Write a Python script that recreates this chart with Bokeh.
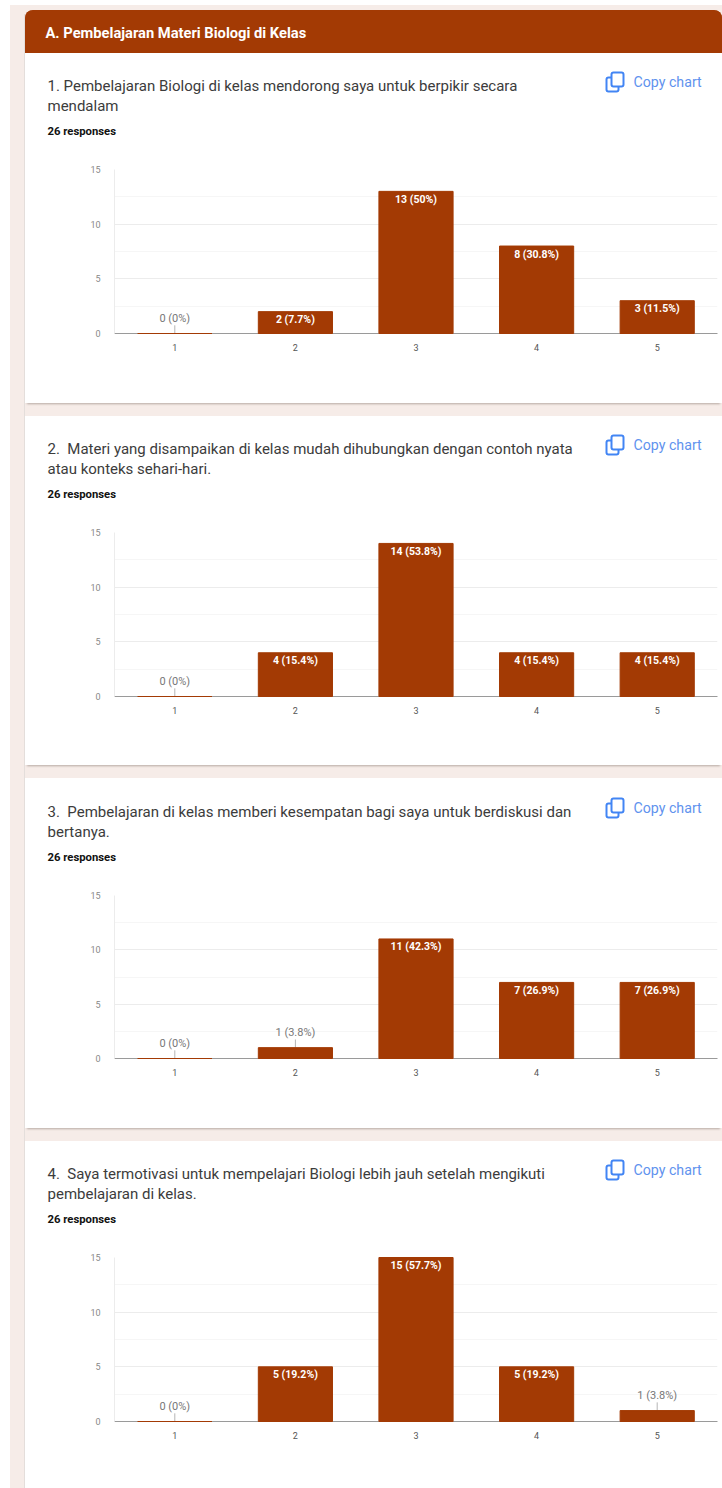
from bokeh.plotting import figure
from bokeh.layouts import column
from bokeh.models import Label, ColumnDataSource, FixedTicker
from bokeh.core.properties import value
from bokeh.embed import file_html
from bokeh.resources import INLINE

categories = ["1", "2", "3", "4", "5"]
header = "A. Pembelajaran Materi Biologi di Kelas"
responses = "26 responses"
copy_text = "Copy chart"
values_q1 = [0, 2, 13, 8, 3]
values_q2 = [0, 4, 14, 4, 4]
values_q3 = [0, 1, 11, 7, 7]
values_q4 = [0, 5, 15, 5, 1]
labels_q1 = ["0 (0%)", "2 (7.7%)", "13 (50%)", "8 (30.8%)", "3 (11.5%)"]
labels_q2 = ["0 (0%)", "4 (15.4%)", "14 (53.8%)", "4 (15.4%)", "4 (15.4%)"]
labels_q3 = ["0 (0%)", "1 (3.8%)", "11 (42.3%)", "7 (26.9%)", "7 (26.9%)"]
labels_q4 = ["0 (0%)", "5 (19.2%)", "15 (57.7%)", "5 (19.2%)", "1 (3.8%)"]
title_q1 = ["1. Pembelajaran Biologi di kelas mendorong saya untuk berpikir secara", "mendalam"]
title_q2 = ["2.\u00a0 Materi yang disampaikan di kelas mudah dihubungkan dengan contoh nyata", "atau konteks sehari-hari."]
title_q3 = ["3.\u00a0 Pembelajaran di kelas memberi kesempatan bagi saya untuk berdiskusi dan", "bertanya."]
title_q4 = ["4.\u00a0 Saya termotivasi untuk mempelajari Biologi lebih jauh setelah mengikuti", "pembelajaran di kelas."]

BRICK = "#a33a04"
PALE = "#f6ece8"
BLUE = "#4285f4"
FONT = "Roboto"
CARD_LEFT = 25
W = 722 - CARD_LEFT
FRAME_LEFT = 114
FRAME_RIGHT = 717
TOP_PAD = 8


def band(title, card_top, y15, first=False):
    """The part of a card above its chart: wording and copy-chart icon, in page pixels."""
    bottom = y15 - TOP_PAD
    p = figure(width=W, height=bottom - card_top, x_range=(CARD_LEFT, 722), y_range=(bottom, card_top),
               toolbar_location=None, output_backend="svg", min_border=0, frame_align=False,
               margin=(0, 0, 0, CARD_LEFT), styles={"background": "white"})
    p.axis.visible = False
    p.grid.visible = False
    p.outline_line_color = None
    p.background_fill_color = "white"
    p.border_fill_color = "white"

    def txt(x, y, s, size, color, bold=False):
        p.add_layout(Label(x=x, y=y, text=s, text_font=FONT, text_font_size=f"{size}px",
                           text_color=color, text_font_style="bold" if bold else "normal",
                           text_align="left", text_baseline="middle"))

    line1 = y15 + 164 - 248
    txt(47, line1, title[0], 15, "#3c3c3c")
    txt(47, line1 + 20, title[1], 15, "#3c3c3c")
    txt(47, line1 + 46, responses, 11.3, "#111111", bold=True)
    p.quad(left=[606], right=[618], top=[line1 - 8], bottom=[line1 + 6], fill_color="white",
           line_color=BLUE, line_width=2, border_radius=2)
    p.quad(left=[611], right=[623], top=[line1 - 13], bottom=[line1 + 1], fill_color="white",
           line_color=BLUE, line_width=2, border_radius=2)
    txt(633, line1 - 4, copy_text, 14.2, "#5f93ee")
    return p


def chart(vals, labs, y15, y0, card_bottom, margin_bottom):
    p = figure(width=W, height=card_bottom - y15 + TOP_PAD, x_range=categories, y_range=(0, 15),
               toolbar_location=None, output_backend="svg",
               min_border_left=FRAME_LEFT - CARD_LEFT, min_border_right=722 - FRAME_RIGHT,
               min_border_top=TOP_PAD, min_border_bottom=card_bottom - y0,
               margin=(0, 0, margin_bottom, CARD_LEFT),
               styles={"background": "white", "box-shadow": "0 3px 2px -2px rgba(90,70,60,0.4)"})
    p.border_fill_color = "white"
    p.background_fill_color = "white"
    p.outline_line_color = None

    inside = [v >= 2 for v in vals]
    src = ColumnDataSource(dict(x=categories, top=vals))
    p.vbar(x="x", top="top", bottom=0, width=0.615, fill_color=BRICK, line_color=BRICK,
           line_width=1, source=src, level="overlay")

    in_src = ColumnDataSource(dict(x=[c for c, k in zip(categories, inside) if k],
                                   y=[v for v, k in zip(vals, inside) if k],
                                   lab=[l for l, k in zip(labs, inside) if k]))
    p.text(x="x", y="y", text="lab", source=in_src, y_offset=8, text_align="center",
           text_baseline="middle", text_color="white", text_font=value(FONT),
           text_font_size="10.5px", text_font_style="bold", level="overlay")

    out_x = [c for c, k in zip(categories, inside) if not k]
    out_v = [v for v, k in zip(vals, inside) if not k]
    out_l = [l for l, k in zip(labs, inside) if not k]
    out_src = ColumnDataSource(dict(x=out_x, y=out_v, lab=out_l))
    p.text(x="x", y="y", text="lab", source=out_src, y_offset=-15, text_align="center",
           text_baseline="middle", text_color="#777777", text_font=value(FONT),
           text_font_size="11px", level="overlay")
    p.segment(x0=out_x, x1=out_x, y0=out_v, y1=[v + 0.75 for v in out_v],
              line_color="#b5b5b5", line_width=1)

    p.xaxis.axis_line_color = "#9a9a9a"
    p.xaxis.major_tick_line_color = None
    p.xaxis.minor_tick_line_color = None
    p.xaxis.major_tick_out = 0
    p.xaxis.major_label_text_font = FONT
    p.xaxis.major_label_text_font_size = "9px"
    p.xaxis.major_label_text_color = "#555555"
    p.xaxis.major_label_standoff = 10
    p.yaxis.ticker = FixedTicker(ticks=[0, 5, 10, 15], minor_ticks=[2.5, 7.5, 12.5])
    p.yaxis.axis_line_color = "#ececec"
    p.yaxis.major_tick_line_color = None
    p.yaxis.minor_tick_line_color = None
    p.yaxis.major_tick_out = 0
    p.yaxis.major_label_text_font = FONT
    p.yaxis.major_label_text_font_size = "9px"
    p.yaxis.major_label_text_color = "#888888"
    p.yaxis.major_label_standoff = 10
    p.xgrid.visible = False
    p.ygrid.grid_line_color = "#ececec"
    p.ygrid.minor_grid_line_color = "#f6f6f6"
    return p


head = figure(width=W, height=43, x_range=(CARD_LEFT, 722), y_range=(53, 10), toolbar_location=None,
              output_backend="svg", min_border=0, frame_align=False, margin=(10, 0, 0, CARD_LEFT),
              styles={"background": BRICK, "border-radius": "8px 8px 0 0", "overflow": "hidden"})
head.axis.visible = False
head.grid.visible = False
head.outline_line_color = None
head.background_fill_color = BRICK
head.border_fill_color = BRICK
head.add_layout(Label(x=45, y=32, text=header, text_font=FONT, text_font_size="14.7px",
                      text_font_style="bold", text_color="white", text_baseline="middle"))

page = column(
    head,
    band(title_q1, 53, 169),
    chart(values_q1, labels_q1, 169, 333, 403, 13),
    band(title_q2, 416, 532),
    chart(values_q2, labels_q2, 532, 696, 765, 13),
    band(title_q3, 778, 895),
    chart(values_q3, labels_q3, 895, 1058, 1128, 13),
    band(title_q4, 1141, 1257),
    chart(values_q4, labels_q4, 1257, 1421, 1488, 0),
    spacing=0,
)
css = ("<style>html,body{margin:0;background:"
       "linear-gradient(#fff,#fff) 0 0/10px 100% no-repeat,"
       "linear-gradient(#fff,#fff) 0 0/100% 5px no-repeat,"
       "linear-gradient(#e4dedb,#e4dedb) 24px 14px/1px 100% no-repeat," + PALE + ";}</style></head>")
open("out.html", "w").write(file_html(page, INLINE).replace("</head>", css, 1))
